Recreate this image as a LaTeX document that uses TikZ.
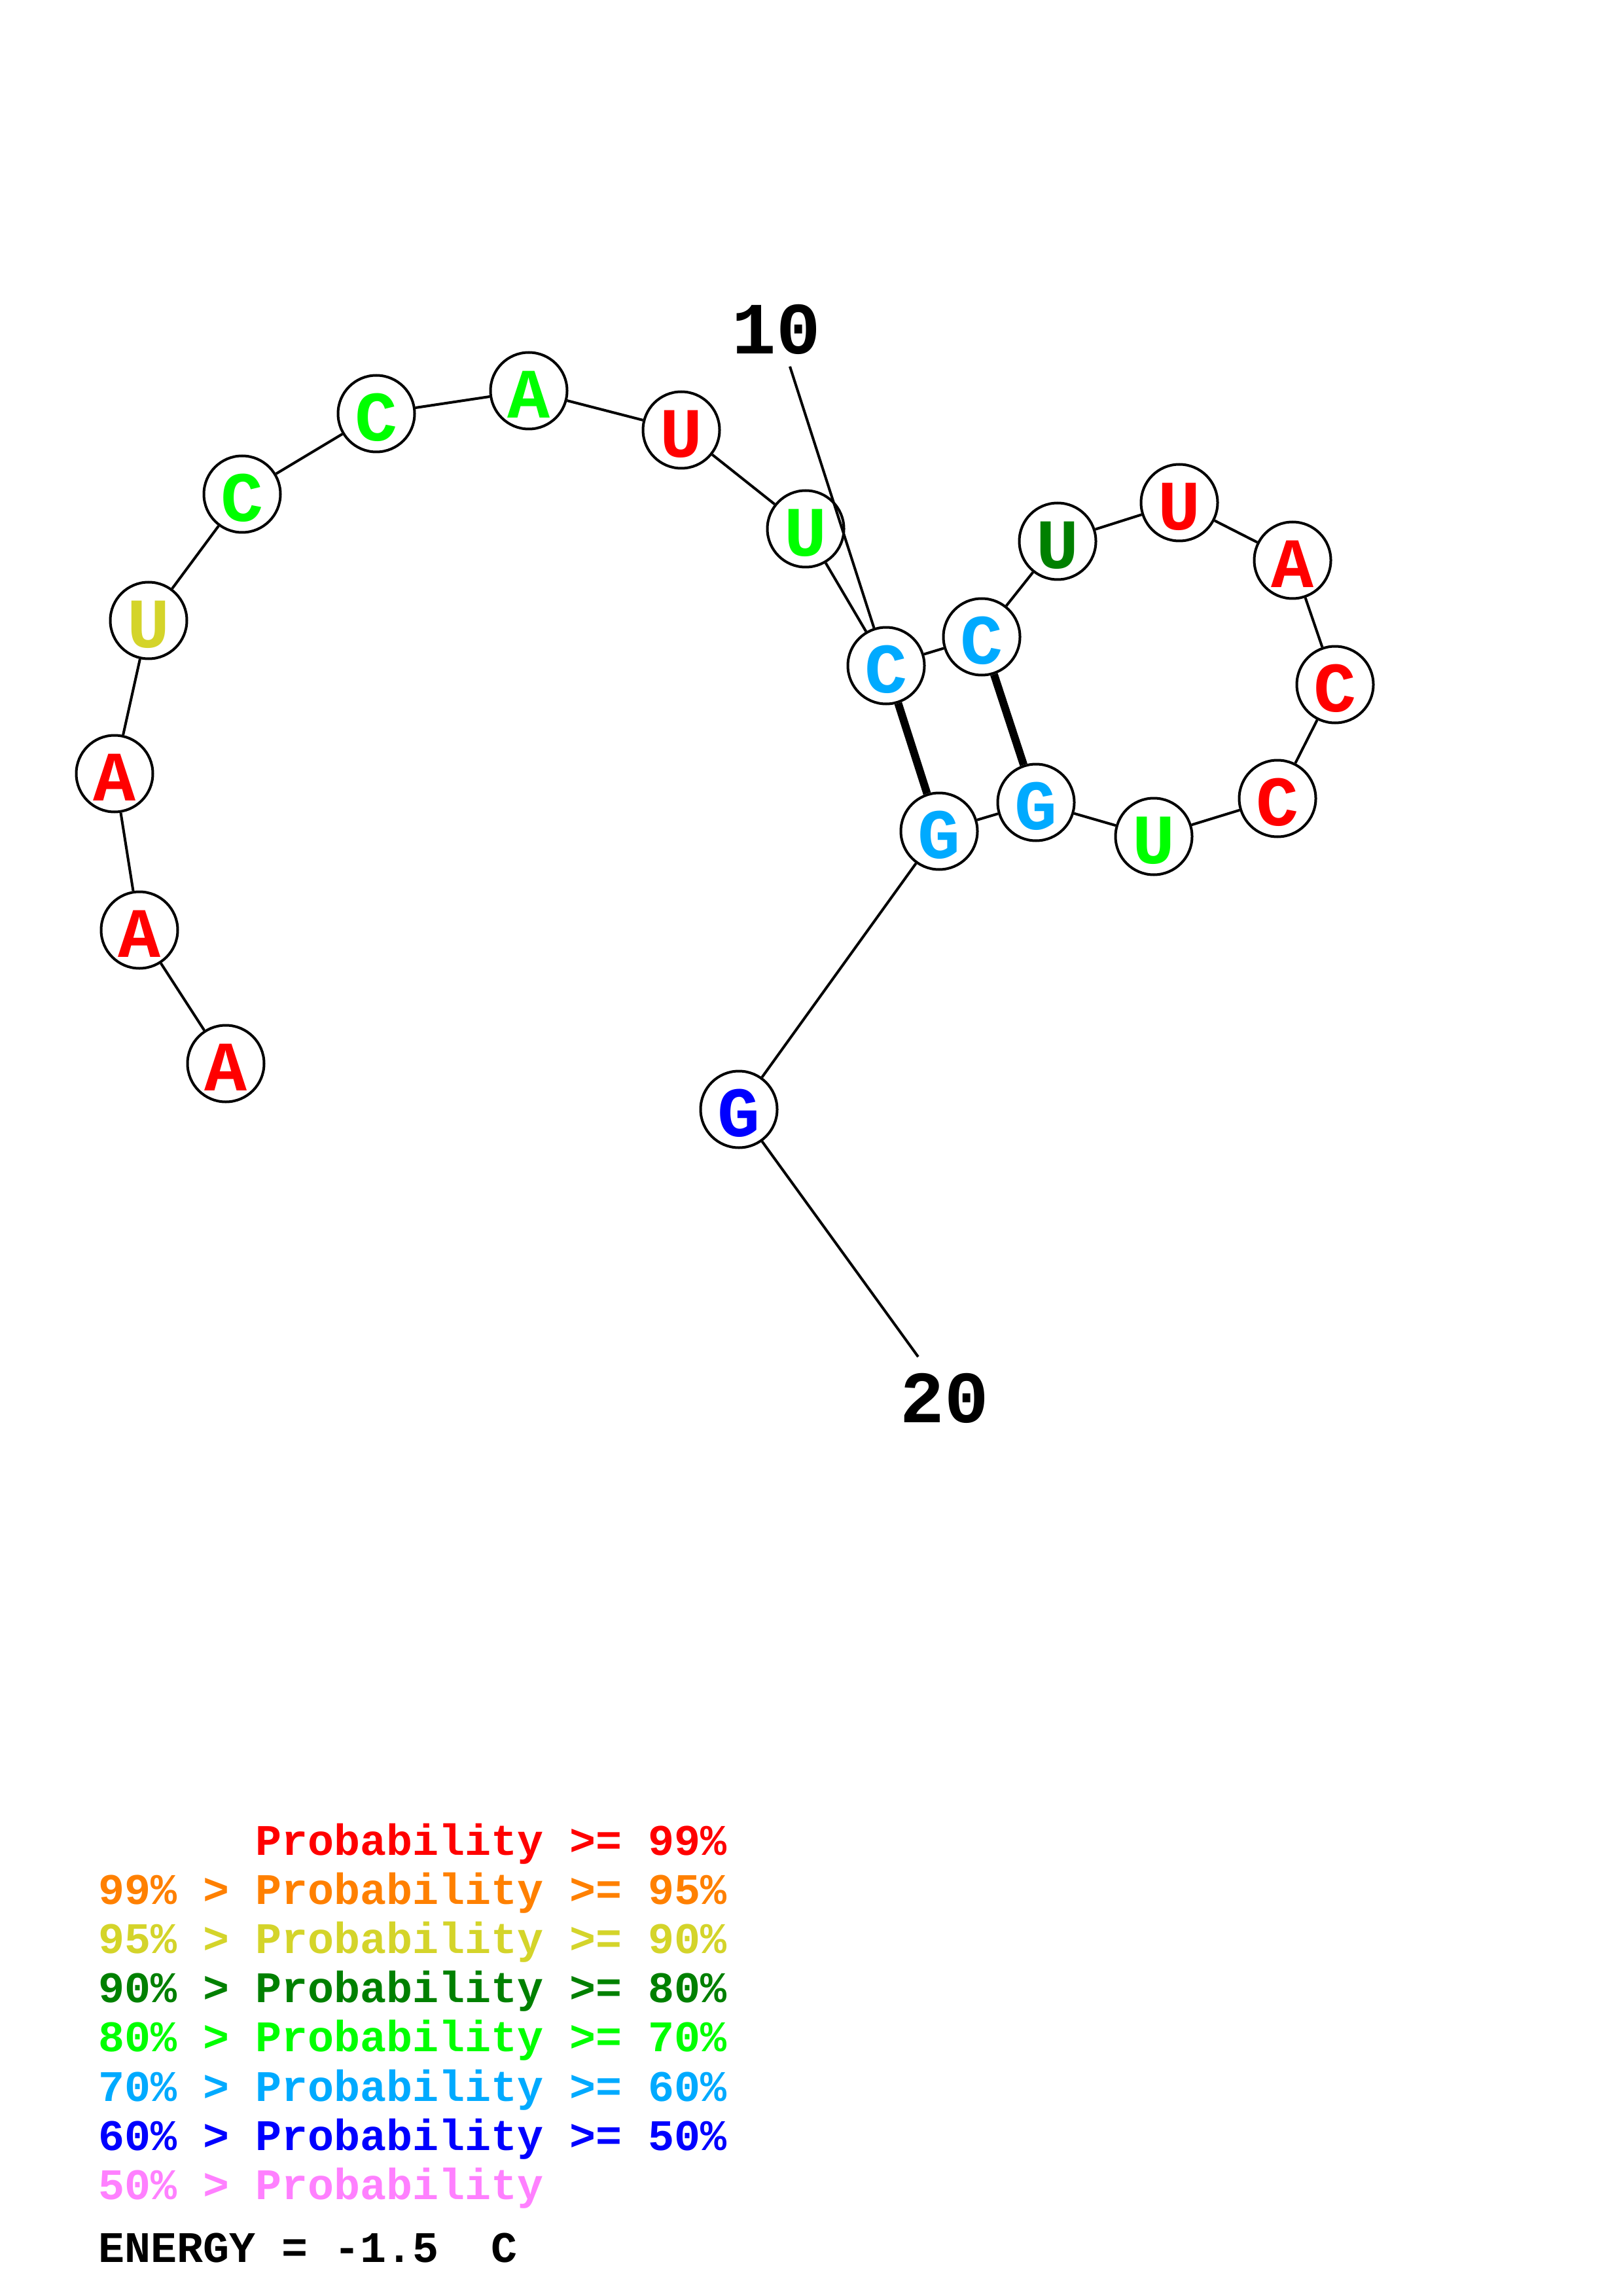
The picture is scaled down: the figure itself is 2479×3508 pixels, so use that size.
\documentclass[tikz,border=0pt]{standalone}
\usepackage{fontspec}
\setmonofont{Liberation Mono}
\definecolor{prA}{RGB}{255,0,0}
\definecolor{prB}{RGB}{255,128,0}
\definecolor{prC}{RGB}{212,212,42}
\definecolor{prD}{RGB}{0,128,0}
\definecolor{prE}{RGB}{0,255,0}
\definecolor{prF}{RGB}{0,170,255}
\definecolor{prG}{RGB}{0,0,255}
\definecolor{prH}{RGB}{255,128,255}
\begin{document}
\begin{tikzpicture}[x=0.24pt,y=-0.24pt,
  base/.style={circle, draw=black, fill=white, line width=0.96pt, minimum size=28.08pt,
    inner sep=0pt, font=\fontsize{26}{26}\selectfont\ttfamily\bfseries,
    text height=20pt, text depth=0pt},
  bb/.style={line width=0.96pt},
  pairline/.style={line width=2.88pt},
  numlabel/.style={font=\fontsize{27}{27}\selectfont\ttfamily\bfseries, inner sep=0pt},
  legend/.style={font=\fontsize{16}{16}\selectfont\ttfamily\bfseries, anchor=base west, inner sep=0pt}]
\useasboundingbox[fill=white] (0,0) rectangle (2479,3508);

% nucleotides
\node[base, text=prA] (n1)  at (345,1625) {A};
\node[base, text=prA] (n2)  at (213,1421) {A};
\node[base, text=prA] (n3)  at (175,1182) {A};
\node[base, text=prC] (n4)  at (227,948)  {U};
\node[base, text=prE] (n5)  at (370,755)  {C};
\node[base, text=prE] (n6)  at (575,632)  {C};
\node[base, text=prE] (n7)  at (808,597)  {A};
\node[base, text=prA] (n8)  at (1041,657) {U};
\node[base, text=prE] (n9)  at (1231,808) {U};
\node[base, text=prF] (n10) at (1354,1017) {C};
\node[base, text=prF] (n11) at (1500,973) {C};
\node[base, text=prD] (n12) at (1616,827) {U};
\node[base, text=prA] (n13) at (1802,768) {U};
\node[base, text=prA] (n14) at (1975,856) {A};
\node[base, text=prA] (n15) at (2040,1046) {C};
\node[base, text=prA] (n16) at (1952,1220) {C};
\node[base, text=prE] (n17) at (1763,1278) {U};
\node[base, text=prF] (n18) at (1583,1226) {G};
\node[base, text=prF] (n19) at (1435,1270) {G};
\node[base, text=prG] (n20) at (1129,1695) {G};

% backbone
\draw[bb] (n1) -- (n2) -- (n3) -- (n4) -- (n5) -- (n6) -- (n7) -- (n8) -- (n9) -- (n10)
  -- (n11) -- (n12) -- (n13) -- (n14) -- (n15) -- (n16) -- (n17) -- (n18) -- (n19) -- (n20);

% base pairs
\draw[pairline] (n10) -- (n19);
\draw[pairline] (n11) -- (n18);

% position labels
\node[numlabel] (lab10) at (1186,503) {10};
\coordinate (t10) at (1207,560);
\draw[bb] (t10) -- (n10);
\node[numlabel] (lab20) at (1443,2136) {20};
\coordinate (t20) at (1403,2073);
\draw[bb] (n20) -- (t20);

% legend
\node[legend, text=prA] (lg1) at (390,2834) {Probability >= 99\%};
\node[legend, text=prB] (lg2) at (150,2909) {99\% > Probability >= 95\%};
\node[legend, text=prC] (lg3) at (150,2984) {95\% > Probability >= 90\%};
\node[legend, text=prD] (lg4) at (150,3059) {90\% > Probability >= 80\%};
\node[legend, text=prE] (lg5) at (150,3134) {80\% > Probability >= 70\%};
\node[legend, text=prF] (lg6) at (150,3210) {70\% > Probability >= 60\%};
\node[legend, text=prG] (lg7) at (150,3285) {60\% > Probability >= 50\%};
\node[legend, text=prH] (lg8) at (150,3360) {50\% > Probability};
\node[legend, text=black] (energy) at (150,3456) {ENERGY = -1.5\ \ C};
\end{tikzpicture}
\end{document}
